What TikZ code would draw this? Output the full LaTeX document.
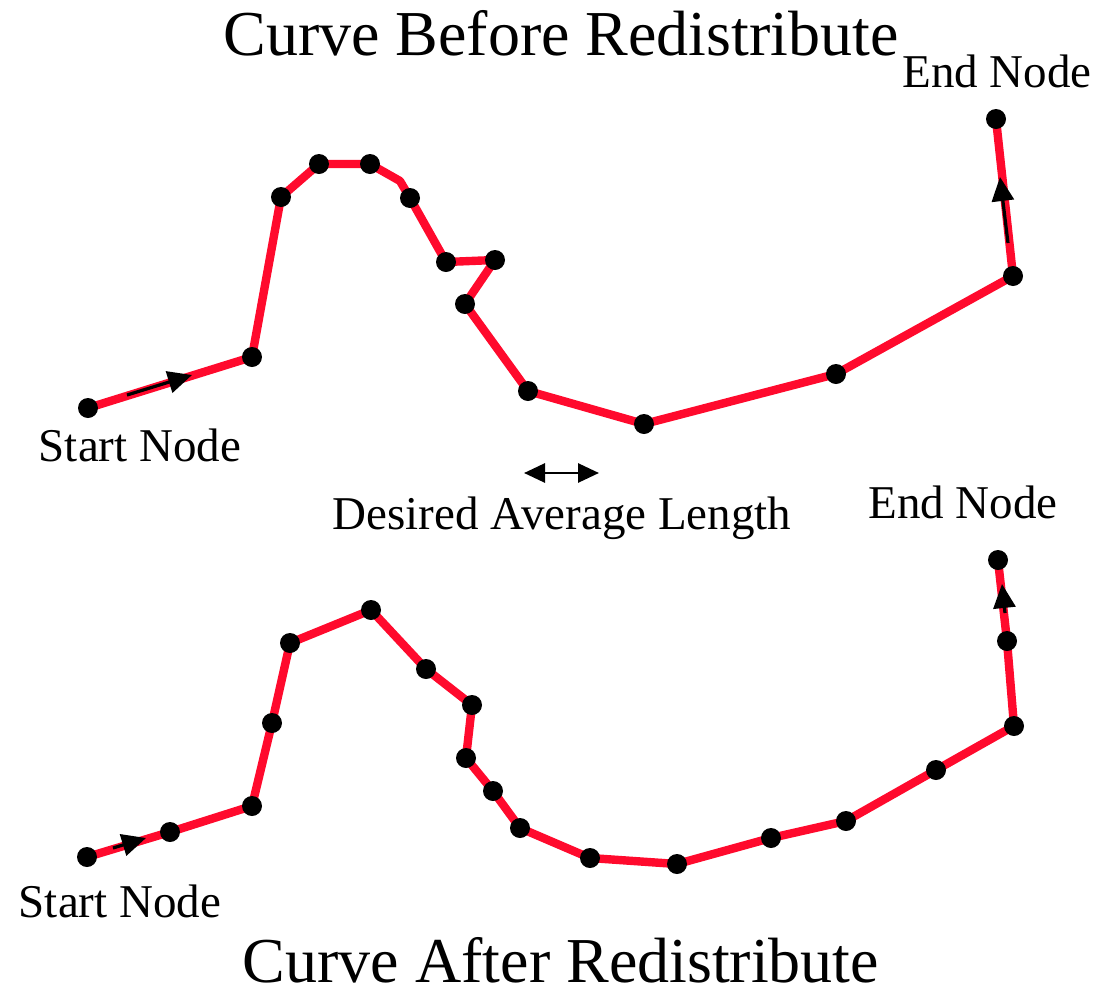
\documentclass[tikz,border=0pt]{standalone}
\usepackage{fontspec}
\setmainfont{Liberation Serif}
\usetikzlibrary{arrows.meta,backgrounds}
\definecolor{curvered}{RGB}{255,10,45}
\tikzset{
  dot/.style={circle,fill=black,inner sep=0pt,minimum size=10pt},
  curveline/.style={draw=curvered,line width=4.2pt,line join=round},
  dirarrow/.style={draw=black,line width=1.6pt,-{Triangle[length=12pt,width=11pt]}},
  dblarrow/.style={draw=black,line width=1.4pt,{Triangle[length=10.5pt,width=9.5pt]}-{Triangle[length=10.5pt,width=9.5pt]}},
  label/.style={font=\fontsize{23.5}{28}\selectfont,anchor=base,inner sep=0pt},
  title/.style={font=\fontsize{32}{38}\selectfont,anchor=base,inner sep=0pt}
}
\begin{document}
\begin{tikzpicture}[x=0.5pt,y=-0.5pt]
\useasboundingbox (0,0) rectangle (1100,997);
% titles and labels
\node[title] (t1) at (561,55) {Curve Before Redistribute};
\node[title] (t2) at (561,982) {Curve After Redistribute};
\node[label] (e1) at (997,87) {End Node};
\node[label] (s1) at (140,461) {Start Node};
\node[label] (dl) at (562,529) {Desired Average Length};
\node[label] (e2) at (963,518) {End Node};
\node[label] (s2) at (120,917) {Start Node};
% top curve nodes
\node[dot] (a1) at (88,408) {};
\node[dot] (a2) at (252,357) {};
\node[dot] (a3) at (281,197) {};
\node[dot] (a4) at (319,164) {};
\node[dot] (a5) at (370,164) {};
\coordinate (ab) at (400,181);
\node[dot] (a6) at (410,198) {};
\node[dot] (a7) at (446,262) {};
\node[dot] (a8) at (495,260) {};
\node[dot] (a9) at (465,304) {};
\node[dot] (a10) at (528,391) {};
\node[dot] (a11) at (644,424) {};
\node[dot] (a12) at (836,374) {};
\node[dot] (a13) at (1013,276) {};
\node[dot] (a14) at (996,119) {};
% bottom curve nodes
\node[dot] (b1) at (87,857) {};
\node[dot] (b2) at (170,832) {};
\node[dot] (b3) at (252,806) {};
\node[dot] (b4) at (272,723) {};
\node[dot] (b5) at (290,643) {};
\node[dot] (b6) at (371,610) {};
\node[dot] (b7) at (426,669) {};
\node[dot] (b8) at (472,705) {};
\node[dot] (b9) at (466,758) {};
\node[dot] (b10) at (493,791) {};
\node[dot] (b11) at (520,828) {};
\node[dot] (b12) at (590,858) {};
\node[dot] (b13) at (677,864) {};
\node[dot] (b14) at (771,838) {};
\node[dot] (b15) at (846,821) {};
\node[dot] (b16) at (936,770) {};
\node[dot] (b17) at (1014,726) {};
\node[dot] (b18) at (1007,641) {};
\node[dot] (b19) at (998,560) {};
\begin{scope}[on background layer]
\draw[curveline] (a1.center) -- (a2.center) -- (a3.center) -- (a4.center) -- (a5.center) -- (ab) -- (a6.center) -- (a7.center) -- (a8.center) -- (a9.center) -- (a10.center) -- (a11.center) -- (a12.center) -- (a13.center) -- (a14.center);
\draw[curveline] (b1.center) -- (b2.center) -- (b3.center) -- (b4.center) -- (b5.center) -- (b6.center) -- (b7.center) -- (b8.center) -- (b9.center) -- (b10.center) -- (b11.center) -- (b12.center) -- (b13.center) -- (b14.center) -- (b15.center) -- (b16.center) -- (b17.center) -- (b18.center) -- (b19.center);
\end{scope}
% direction arrows
\coordinate (r1s) at (127,395);
\coordinate (r1e) at (192,375);
\coordinate (r2s) at (1008,243);
\coordinate (r2e) at (1000,177);
\coordinate (r3s) at (113,848);
\coordinate (r3e) at (146,838);
\coordinate (r4s) at (1005,613);
\coordinate (r4e) at (1002,584);
\coordinate (dls) at (524,473);
\coordinate (dle) at (599,473);
\draw[dirarrow] (r1s) -- (r1e);
\draw[dirarrow] (r2s) -- (r2e);
\draw[dirarrow] (r3s) -- (r3e);
\draw[dirarrow] (r4s) -- (r4e);
\draw[dblarrow] (dls) -- (dle);
\end{tikzpicture}
\end{document}
